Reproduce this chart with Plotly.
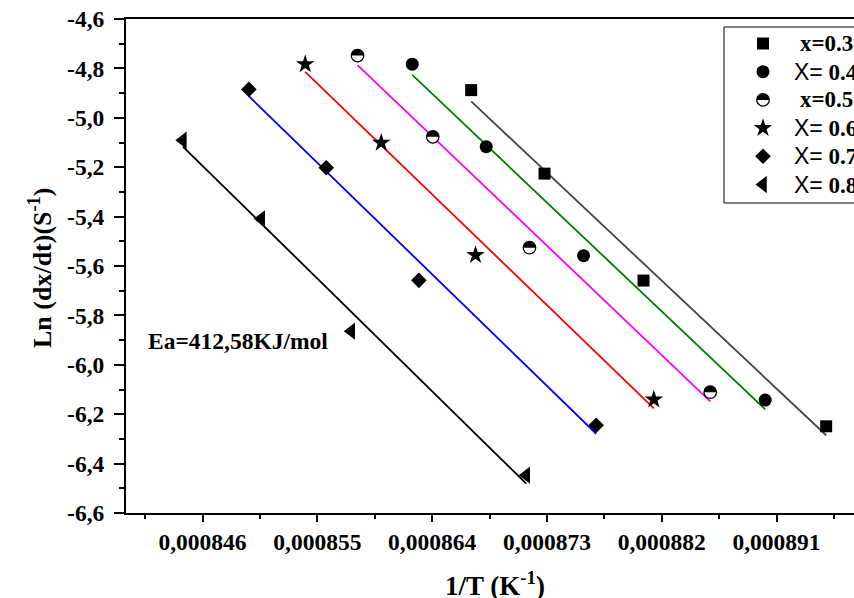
import numpy as np
import plotly.graph_objects as go

# ---- data: 1/T (K^-1) against ln(dx/dt) for each composition ----
compositions = ["x=0.3", "X= 0.4", "x=0.5", "X= 0.6", "X= 0.7", "X= 0.8"]

inv_T_x03 = [0.00086706, 0.00087281, 0.00088057, 0.00089489]
ln_rate_x03 = [-4.888, -5.226, -5.659, -6.249]

inv_T_x04 = [0.00086244, 0.00086824, 0.00087587, 0.00089011]
ln_rate_x04 = [-4.783, -5.117, -5.558, -6.143]

inv_T_x05 = [0.00085815, 0.00086405, 0.00087163, 0.00088580]
ln_rate_x05 = [-4.748, -5.077, -5.526, -6.111]

inv_T_x06 = [0.00085405, 0.00086001, 0.00086740, 0.00088138]
ln_rate_x06 = [-4.783, -5.101, -5.556, -6.141]

inv_T_x07 = [0.00084963, 0.00085570, 0.00086296, 0.00087686]
ln_rate_x07 = [-4.885, -5.202, -5.658, -6.245]

inv_T_x08 = [0.00084446, 0.00085060, 0.00085766, 0.00087138]
ln_rate_x08 = [-5.091, -5.409, -5.864, -6.447]

x_tick_vals = [0.000846, 0.000855, 0.000864, 0.000873, 0.000882, 0.000891]
x_tick_text = ["0,000846", "0,000855", "0,000864", "0,000873", "0,000882", "0,000891"]
y_tick_vals = [-4.6, -4.8, -5.0, -5.2, -5.4, -5.6, -5.8, -6.0, -6.2, -6.4, -6.6]
y_tick_text = ["-4,6", "-4,8", "-5,0", "-5,2", "-5,4", "-5,6", "-5,8", "-6,0", "-6,2", "-6,4", "-6,6"]

activation_energy_label = "Ea=412,58KJ/mol"

x_series = [inv_T_x03, inv_T_x04, inv_T_x05, inv_T_x06, inv_T_x07, inv_T_x08]
y_series = [ln_rate_x03, ln_rate_x04, ln_rate_x05, ln_rate_x06, ln_rate_x07, ln_rate_x08]

# ---- styling ----
W, H = 854, 598
M_L, M_R, M_T, M_B = 126, 0, 19, 85
PW, PH = W - M_L - M_R, H - M_T - M_B

fit_colors = ["#444444", "#008000", "#ff00ff", "#ff0000", "#0000ff", "#000000"]
symbols = ["square", "circle", "circle", "star", "diamond", "triangle-left"]
sizes = [12, 13, 12.5, 14, 12, 15]
SERIF = "Liberation Serif"


def px_x(px):
    return (px - M_L) / PW


def px_y(py):
    return 1 - (py - M_T) / PH


def half_disc(r):
    k = 0.5523 * r
    return (f"M{-r},0 C{-r},{k} {-k},{r} 0,{r} "
            f"C{k},{r} {r},{k} {r},0 Z")


def label_html(text):
    if text.startswith("X="):
        return ('<span style="font-family:Liberation Sans">X=</span>'
                + '<span style="font-family:Liberation Serif"><b>' + text[2:] + "</b></span>")
    return "<b>" + text + "</b>"


fig = go.Figure()
shapes = []

# linear fits (Arrhenius lines), drawn under the markers
for xs, ys, col in zip(x_series, y_series, fit_colors):
    slope, icpt = np.polyfit(xs, ys, 1)
    xl = np.array([min(xs), max(xs)])
    fig.add_trace(go.Scatter(x=xl, y=slope * xl + icpt, mode="lines",
                             line=dict(color=col, width=1.8),
                             showlegend=False, hoverinfo="skip"))

# measured points
for i, (xs, ys) in enumerate(zip(x_series, y_series)):
    half = compositions[i] == "x=0.5"
    fig.add_trace(go.Scatter(
        x=xs, y=ys, mode="markers", name=compositions[i], showlegend=False,
        marker=dict(symbol=symbols[i], size=sizes[i],
                    color="white" if half else "black",
                    line=dict(color="black", width=1.3 if half else 0))))
    if half:
        for xv, yv in zip(xs, ys):
            shapes.append(dict(type="path", xref="x", yref="y",
                               xsizemode="pixel", ysizemode="pixel",
                               xanchor=xv, yanchor=yv, path=half_disc(6.2),
                               fillcolor="black", line=dict(width=0)))

# legend drawn on an overlay axis pair spanning the plot area
LEG_X0, LEG_Y0, LEG_Y1 = 724, 27, 203
ROW0, ROW_DY = 43.5, 28.2
MARK_X = 763
leg_y = [px_y(ROW0 + i * ROW_DY) for i in range(len(compositions))]
for i, lab in enumerate(compositions):
    half = lab == "x=0.5"
    fig.add_trace(go.Scatter(
        x=[px_x(MARK_X)], y=[leg_y[i]], xaxis="x2", yaxis="y2",
        mode="markers", showlegend=False, hoverinfo="skip",
        marker=dict(symbol=symbols[i], size=sizes[i],
                    color="white" if half else "black",
                    line=dict(color="black", width=1.3 if half else 0))))
    if half:
        shapes.append(dict(type="path", xref="x2", yref="y2",
                           xsizemode="pixel", ysizemode="pixel",
                           xanchor=px_x(MARK_X), yanchor=leg_y[i],
                           path=half_disc(6.2), fillcolor="black",
                           line=dict(width=0)))

# frame runs off the right edge: left, top and bottom sides only
for xa, ya, xb, yb in [(LEG_X0, LEG_Y0, W, LEG_Y0),
                       (LEG_X0, LEG_Y1, W, LEG_Y1),
                       (LEG_X0, LEG_Y0, LEG_X0, LEG_Y1)]:
    shapes.append(dict(type="line", xref="paper", yref="paper",
                       x0=px_x(xa), x1=px_x(xb), y0=px_y(ya), y1=px_y(yb),
                       line=dict(color="#555555", width=1.5), layer="below"))

annotations = []
for i, lab in enumerate(compositions):
    tx = 798 if lab.startswith("x") else 792
    annotations.append(dict(xref="paper", yref="paper", x=px_x(tx), y=leg_y[i],
                            xanchor="left", yanchor="middle", showarrow=False,
                            text=label_html(lab),
                            font=dict(family=SERIF, size=23, color="black")))

annotations.append(dict(xref="paper", yref="paper", x=px_x(146), y=px_y(341),
                        xanchor="left", yanchor="middle", showarrow=False,
                        text="<b>" + activation_energy_label + "</b>",
                        font=dict(family=SERIF, size=23.5, color="black")))

# axis titles
annotations.append(dict(xref="paper", yref="paper", x=px_x(495), y=px_y(584),
                        xanchor="center", yanchor="middle", showarrow=False,
                        text="<b>1/T (K<sup>-1</sup>)</b>",
                        font=dict(family=SERIF, size=27, color="black")))
annotations.append(dict(xref="paper", yref="paper", x=px_x(40), y=px_y(268),
                        xanchor="center", yanchor="middle", showarrow=False,
                        textangle=-90, text="<b>Ln (dx/dt)(S<sup>-1</sup>)</b>",
                        font=dict(family=SERIF, size=26, color="black")))

tick_font = dict(family=SERIF, size=23.5, color="black", weight="bold")

fig.update_layout(
    width=W, height=H,
    margin=dict(l=M_L, r=M_R, t=M_T, b=M_B),
    paper_bgcolor="white", plot_bgcolor="white",
    font=dict(family=SERIF, color="black"),
    showlegend=False,
    shapes=shapes, annotations=annotations,
    xaxis=dict(range=[0.00084, 0.00084 + PW / 1.2756e7],
               tickmode="array", tickvals=x_tick_vals, ticktext=x_tick_text,
               ticks="outside", ticklen=7, tickwidth=2, tickcolor="black",
               minor=dict(tickmode="linear", tick0=0.000846, dtick=0.0000045,
                          ticks="outside", ticklen=4, tickwidth=2, tickcolor="black"),
               showline=True, linewidth=2, linecolor="black", mirror=True,
               showgrid=False, zeroline=False, tickfont=tick_font,
               ticklabelstandoff=0),
    yaxis=dict(range=[-6.6, -4.6],
               tickmode="array", tickvals=y_tick_vals, ticktext=y_tick_text,
               ticks="outside", ticklen=10, tickwidth=2, tickcolor="black",
               minor=dict(tickmode="linear", tick0=-6.6, dtick=0.1,
                          ticks="outside", ticklen=5, tickwidth=2, tickcolor="black"),
               showline=True, linewidth=2, linecolor="black", mirror=False,
               showgrid=False, zeroline=False, tickfont=tick_font,
               ticklabelstandoff=5),
    xaxis2=dict(range=[0, 1], overlaying="x", visible=False, fixedrange=True),
    yaxis2=dict(range=[0, 1], overlaying="y", visible=False, fixedrange=True),
)

fig.write_html("out.html")
